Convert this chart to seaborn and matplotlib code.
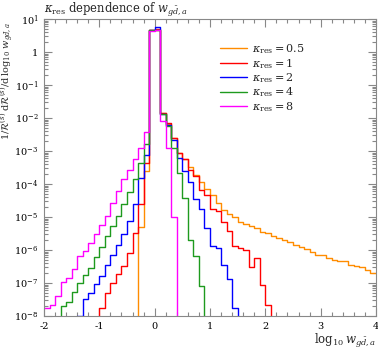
import numpy as np
import pandas as pd
import matplotlib
matplotlib.use("Agg")
import matplotlib.pyplot as plt
import seaborn as sns
from matplotlib.lines import Line2D
from matplotlib.ticker import FixedLocator, FixedFormatter, MultipleLocator, LogLocator, NullFormatter

# ---------------- data (bin width 0.1 in log10 w) ----------------
bin_lo, bin_hi, bin_width = -2.0, 4.0, 0.1

kappa_labels = [r"$\kappa_{\rm res} = 0.5$", r"$\kappa_{\rm res} = 1$", r"$\kappa_{\rm res} = 2$",
                r"$\kappa_{\rm res} = 4$", r"$\kappa_{\rm res} = 8$"]

# first bin lower edge of each series
start_k05, start_k1, start_k2, start_k4, start_k8 = -0.3, -1.0, -1.4, -1.7, -2.0

vals_k05 = [4.9e-6, 2.45e-4, 4.8, 4.8, 1.4e-2, 6.6e-3, 2.4e-3, 8.7e-4, 5.75e-4, 3.2e-4,
            1.9e-4, 1.12e-4, 7.1e-5, 4.5e-5, 2.7e-5, 1.58e-5, 1.2e-5, 1.0e-5, 7.1e-6, 6.3e-6,
            5.4e-6, 4.5e-6, 3.6e-6, 3.2e-6, 2.6e-6, 2.3e-6, 2.0e-6, 1.78e-6, 1.41e-6, 1.23e-6,
            1.05e-6, 8.9e-7, 7.1e-7, 6.9e-7, 5.6e-7, 5.0e-7, 4.5e-7, 4.7e-7, 3.5e-7, 3.3e-7,
            3.1e-7, 2.45e-7, 2.0e-7]
vals_k1 = [1.8e-8, 5.1e-8, 1.0e-7, 1.86e-7, 3.3e-7, 8.3e-7, 3.3e-6, 2.4e-5, 4.4e-4, 4.7,
           4.9, 1.4e-2, 7.0e-3, 2.5e-3, 8.7e-4, 5.75e-4, 2.75e-4, 1.74e-4, 6.8e-5, 4.8e-5,
           1.7e-5, 1.48e-5, 7.1e-6, 3.8e-6, 1.29e-6, 1.15e-6, 1.02e-6, 2.95e-7, 5.8e-7, 8.9e-8,
           2.2e-8]
vals_k2 = [1.0e-8, 3.2e-8, 5.0e-8, 9.3e-8, 1.66e-7, 3.4e-7, 7.1e-7, 1.38e-6, 3.1e-6, 7.6e-6,
           2.4e-5, 1.55e-4, 7.8e-4, 4.6, 5.7, 1.35e-2, 6.3e-3, 2.1e-3, 6.2e-4, 2.5e-4,
           1.12e-4, 3.5e-5, 1.7e-5, 4.5e-6, 1.3e-6, 1.17e-6, 3.5e-7, 1.3e-7, 1.8e-8]
vals_k4 = [2.0e-8, 2.6e-8, 5.5e-8, 1.0e-7, 1.7e-7, 2.9e-7, 6.3e-7, 1.26e-6, 2.6e-6, 5.5e-6,
           1.07e-5, 2.5e-5, 5.9e-5, 1.4e-4, 4.4e-4, 1.6e-3, 4.7, 4.7, 1.35e-2, 5.6e-3,
           1.26e-3, 2.2e-4, 3.8e-5, 2.0e-6, 6.6e-7, 8.1e-8]
vals_k8 = [1.7e-8, 2.2e-8, 4.1e-8, 1.05e-7, 1.4e-7, 2.6e-7, 6.6e-7, 9.3e-7, 1.66e-6, 2.95e-6,
           5.6e-6, 1.07e-5, 2.7e-5, 6.0e-5, 1.38e-4, 2.75e-4, 5.75e-4, 1.23e-3, 3.7e-3, 4.4,
           4.5, 8.3e-3, 1.26e-3, 1.0e-5]

x_ticks = [-2, -1, 0, 1, 2, 3, 4]
x_ticklabels = ["-2", "-1", "0", "1", "2", "3", "4"]
y_ticks = [1e-8, 1e-7, 1e-6, 1e-5, 1e-4, 1e-3, 1e-2, 1e-1, 1, 10]
y_ticklabels = [r"$10^{-8}$", r"$10^{-7}$", r"$10^{-6}$", r"$10^{-5}$", r"$10^{-4}$",
                r"$10^{-3}$", r"$10^{-2}$", r"$10^{-1}$", "1", r"$10^{1}$"]

colors = ["#ff8c00", "#ff0000", "#0000ff", "#1e9a1e", "#ff00ff"]

# ---------------- plotting ----------------
sns.set_theme(style="ticks")
plt.rcParams["font.family"] = ["DejaVu Serif"]
plt.rcParams["mathtext.fontset"] = "dejavuserif"

fig = plt.figure(figsize=(3.78, 3.5), dpi=100)
ax = fig.add_axes([44 / 378, 34 / 350, 332 / 378, 297 / 350])

edges = [round(e, 1) for e in np.arange(bin_lo, bin_hi + bin_width / 2, bin_width)]
series = [(start_k05, vals_k05), (start_k1, vals_k1), (start_k2, vals_k2),
          (start_k4, vals_k4), (start_k8, vals_k8)]
for (start, vals), color, lab in zip(series, colors, kappa_labels):
    centers = start + bin_width * (np.arange(len(vals)) + 0.5)
    df = pd.DataFrame({"x": centers, "w": vals})
    sns.histplot(data=df, x="x", weights="w", bins=edges, element="step", fill=False,
                 color=color, linewidth=1.0, ax=ax)

ax.set_yscale("log")
ax.set_xlim(-2, 4)
ax.set_ylim(1e-8, 10)

ax.xaxis.set_major_locator(FixedLocator(x_ticks))
ax.xaxis.set_major_formatter(FixedFormatter(x_ticklabels))
ax.xaxis.set_minor_locator(MultipleLocator(0.2))
ax.yaxis.set_major_locator(FixedLocator(y_ticks))
ax.yaxis.set_major_formatter(FixedFormatter(y_ticklabels))
ax.yaxis.set_minor_locator(LogLocator(base=10, subs=np.arange(2, 10), numticks=20))
ax.yaxis.set_minor_formatter(NullFormatter())

tick_col = "#888888"
ax.tick_params(which="both", direction="in", top=True, right=True, colors=tick_col,
               labelcolor="black", labelsize=7, width=0.8)
ax.tick_params(which="major", length=6, pad=4)
ax.tick_params(which="minor", length=3)
for s in ax.spines.values():
    s.set_color(tick_col)
    s.set_linewidth(0.8)

ax.set_xlabel(r"$\log_{10} w_{g\bar{d},a}$", fontsize=8.5, ha="right", va="top")
ax.xaxis.set_label_coords(1.0, -0.055)
ax.set_ylabel(r"$1/\mathcal{R}^{(s)}\;\mathrm{d}\mathcal{R}^{(s)}/\mathrm{d}\,\log_{10}\, w_{g\bar{d},a}$",
              fontsize=7, ha="right", va="center")
ax.yaxis.set_label_coords(-0.111, 0.99)
ax.set_title(r"$\kappa_{\rm res}$ dependence of $w_{g\bar{d},a}$", loc="left", fontsize=8.3, pad=4)

handles = [Line2D([], [], color=c, lw=1.0) for c in colors]
ax.legend(handles, kappa_labels, loc="upper left", bbox_to_anchor=(0.5, 0.955), frameon=False,
          fontsize=8, handlelength=2.4, labelspacing=0.05, handletextpad=0.5)

fig.savefig("out.png", dpi=100)
